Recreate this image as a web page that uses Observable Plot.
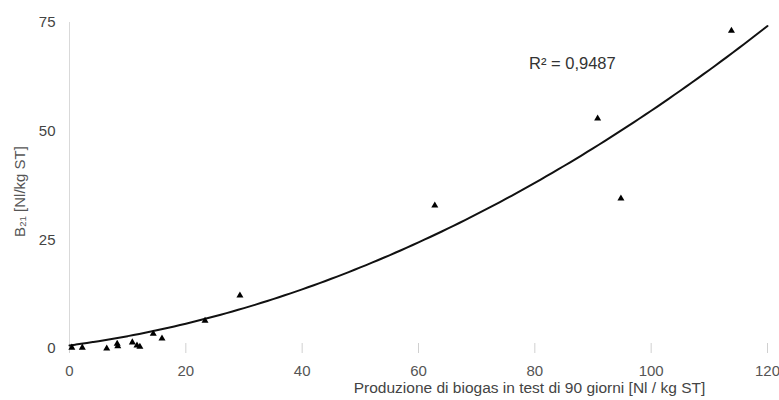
<!DOCTYPE html>
<html>
<head>
<meta charset="utf-8">
<script src="https://cdn.jsdelivr.net/npm/d3@7"></script>
<script src="https://cdn.jsdelivr.net/npm/@observablehq/plot@0.6"></script>
<style>
  body { margin: 0; background: #fff; }
  #chart svg { display: block; }
</style>
</head>
<body>
<div id="chart"></div>
<script>
// Data
const biogas90 = [0.4, 2.2, 6.4, 8.2, 8.3, 10.8, 11.6, 12.1, 14.4, 15.9, 23.3, 29.3, 62.8, 90.8, 94.8, 113.8];
const b21      = [0.2, 0.2, 0.0, 1.1, 0.5, 1.4, 0.7, 0.4, 3.4, 2.3, 6.4, 12.2, 32.9, 52.9, 34.5, 73.1];
// Order-2 polynomial trend line coefficients (c0, c1, c2)
const trendCoef = [0.7, 0.178, 0.00362];
const xTicks = [0, 20, 40, 60, 80, 100, 120];
const yTicks = [0, 25, 50, 75];
const r2Label = "R² = 0,9487";
const xTitle = "Produzione di biogas in test di 90 giorni [Nl / kg ST]";
const yTitle = "B₂₁ [Nl/kg ST]";

const points = biogas90.map((x, i) => ({x, y: b21[i]}));
const trend = d3.range(0, 120.01, 1).map(x => ({x, y: trendCoef[0] + trendCoef[1] * x + trendCoef[2] * x * x}));

const font = "'Liberation Sans', Arial, sans-serif";

const chart = Plot.plot({
  width: 779,
  height: 400,
  marginLeft: 69,
  marginRight: 12,
  marginTop: 22,
  marginBottom: 52,
  style: { fontFamily: font, background: "#fff", overflow: "visible" },
  x: { domain: [0, 120] },
  y: { domain: [0, 75] },
  marks: [
    Plot.ruleX([0], { stroke: "#d9d9d9", strokeWidth: 1 }),
    Plot.axisX({ ticks: xTicks, tickSize: 10, dy: -5, text: null, stroke: "#d0d0d0", label: null }),
    Plot.axisX({ ticks: xTicks, tickSize: 0, tickPadding: 17, fontSize: 15, fill: "#555", label: null }),
    Plot.text([xTitle], { frameAnchor: "bottom", lineAnchor: "middle", dx: 111, dy: 40, fontSize: 15.5, fill: "#444" }),
    Plot.axisY({ ticks: yTicks, tickSize: 0, tickPadding: 14, fontSize: 15, fill: "#444", label: null }),
    Plot.text([yTitle], { frameAnchor: "left", textAnchor: "middle", lineAnchor: "middle", dx: -49, dy: 6, rotate: -90, fontSize: 15, fill: "#555" }),
    Plot.line(trend, { x: "x", y: "y", stroke: "#111", strokeWidth: 2, curve: "natural" }),
    Plot.dot(points, { x: "x", y: "y", symbol: "triangle", r: 2.6, fill: "#000", stroke: "none" }),
    Plot.text([r2Label], { x: () => 79, y: () => 65.5, textAnchor: "start", lineAnchor: "middle", fontSize: 16.5, fill: "#333" })
  ]
});
document.getElementById("chart").appendChild(chart);
</script>
</body>
</html>
